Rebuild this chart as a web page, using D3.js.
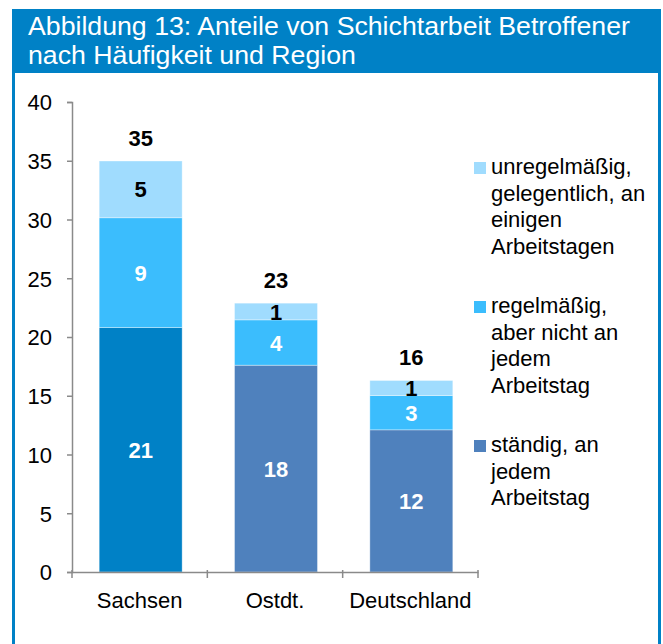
<!DOCTYPE html>
<html><head><meta charset="utf-8">
<script src="https://cdn.jsdelivr.net/npm/d3@7"></script>
<style>
body{margin:0;background:#fff}
svg{display:block}
text{font-family:"Liberation Sans",Arial,Helvetica,sans-serif}
</style>
</head><body>
<svg id="c" width="663" height="644"></svg>
<script>
// ---- data ----
const categories = ["Sachsen", "Ostdt.", "Deutschland"];
const seriesKeys = ["staendig", "regelmaessig", "unregelmaessig"];
const staendig = [20.8, 17.6, 12.1];
const regelmaessig = [9.35, 3.86, 2.92];
const unregelmaessig = [4.83, 1.42, 1.28];
const yTicks = [0, 5, 10, 15, 20, 25, 30, 35, 40];
const titleLines = ["Abbildung 13: Anteile von Schichtarbeit Betroffener", "nach Häufigkeit und Region"];
const legendLines = [
  ["unregelmäßig,", "gelegentlich, an", "einigen", "Arbeitstagen"],
  ["regelmäßig,", "aber nicht an", "jedem", "Arbeitstag"],
  ["ständig, an", "jedem", "Arbeitstag"]
];
const legendKeys = ["unregelmaessig", "regelmaessig", "staendig"];

// ---- setup ----
const svg = d3.select("#c");
const BLUE = "#0081c6";
const colors = {staendig: "#4f81bd", regelmaessig: "#3bbdfd", unregelmaessig: "#a0dcfe"};
const sachsenBottom = "#0081c6";

// frame
svg.append("rect").attr("x", 12).attr("y", 9).attr("width", 649).attr("height", 700).attr("fill", BLUE);
svg.append("rect").attr("x", 15).attr("y", 73).attr("width", 643).attr("height", 700).attr("fill", "#fff");

svg.append("g").selectAll("text").data(titleLines).join("text")
  .attr("x", 28).attr("y", (d, i) => 35 + i * 28.5)
  .attr("fill", "#fff").attr("font-size", 26.7).text(d => d);

const table = categories.map((c, i) => ({
  cat: c, staendig: staendig[i], regelmaessig: regelmaessig[i], unregelmaessig: unregelmaessig[i]
}));
const stacked = d3.stack().keys(seriesKeys)(table);

const x = d3.scaleBand().domain(categories).range([72, 478]).paddingInner(0.387).paddingOuter(0.1935);
const y = d3.scaleLinear().domain([0, 40]).range([572, 102]);

// bars
const layers = svg.append("g").selectAll("g").data(stacked).join("g");
layers.selectAll("rect").data(d => d.map(v => ({key: d.key, v}))).join("rect")
  .attr("x", d => x(d.v.data.cat) + 1)
  .attr("width", x.bandwidth())
  .attr("y", d => y(d.v[1]))
  .attr("height", d => y(d.v[0]) - y(d.v[1]))
  .attr("fill", d => (d.key === "staendig" && d.v.data.cat === "Sachsen") ? sachsenBottom : colors[d.key])
  .attr("stroke", "rgba(255,255,255,0.45)").attr("stroke-width", 0.8);

// segment labels
const fmt = d3.format(".0f");
layers.selectAll("text").data(d => d.map(v => ({key: d.key, v}))).join("text")
  .attr("x", d => x(d.v.data.cat) + 1 + x.bandwidth() / 2)
  .attr("y", d => (y(d.v[0]) + y(d.v[1])) / 2 + 8)
  .attr("text-anchor", "middle").attr("font-size", 22).attr("font-weight", "bold")
  .attr("fill", d => d.key === "unregelmaessig" ? "#000" : "#fff")
  .text(d => fmt(d.v[1] - d.v[0]));

// totals
svg.append("g").selectAll("text").data(table).join("text")
  .attr("x", d => x(d.cat) + 1 + x.bandwidth() / 2)
  .attr("y", d => y(d.staendig + d.regelmaessig + d.unregelmaessig) - 15)
  .attr("text-anchor", "middle").attr("font-size", 22).attr("font-weight", "bold")
  .attr("fill", "#000")
  .text(d => fmt(d.staendig + d.regelmaessig + d.unregelmaessig));

// y axis
const AX = "#8a8a8a";
const yAxis = svg.append("g").attr("transform", "translate(72,0)")
  .call(d3.axisLeft(y).tickValues(yTicks).tickSize(5).tickPadding(15).tickFormat(d3.format("d")));
yAxis.select(".domain").attr("stroke", AX).attr("stroke-width", 1.5);
yAxis.selectAll(".tick line").attr("stroke", AX).attr("stroke-width", 1.5);
yAxis.selectAll(".tick text").attr("font-size", 22).attr("fill", "#000")
  .attr("font-family", '"Liberation Sans",Arial,sans-serif').attr("dy", "0.36em");

// x axis
const xAxis = svg.append("g").attr("transform", "translate(0,572)")
  .call(d3.axisBottom(x).tickSize(0).tickPadding(20));
xAxis.select(".domain").attr("stroke", AX).attr("stroke-width", 1.5);
xAxis.selectAll(".tick text").attr("font-size", 22).attr("fill", "#000")
  .attr("font-family", '"Liberation Sans",Arial,sans-serif');
const bounds = categories.map(c => x(c) - x.step() * x.paddingInner() / 2).concat([x.range()[1]]);
svg.append("g").selectAll("line").data(bounds).join("line")
  .attr("x1", d => d).attr("x2", d => d).attr("y1", 570).attr("y2", 578)
  .attr("stroke", AX).attr("stroke-width", 1.5);

// legend
const lg = svg.append("g");
let yy = 174;
legendLines.forEach((lines, gi) => {
  lg.append("rect").attr("x", 474).attr("y", yy - 12).attr("width", 12).attr("height", 12)
    .attr("fill", colors[legendKeys[gi]]);
  lines.forEach((t, li) => {
    lg.append("text").attr("x", 491).attr("y", yy + li * 26.7).attr("font-size", 22)
      .attr("fill", "#000").text(t);
  });
  yy += 139;
});
</script>
</body></html>
